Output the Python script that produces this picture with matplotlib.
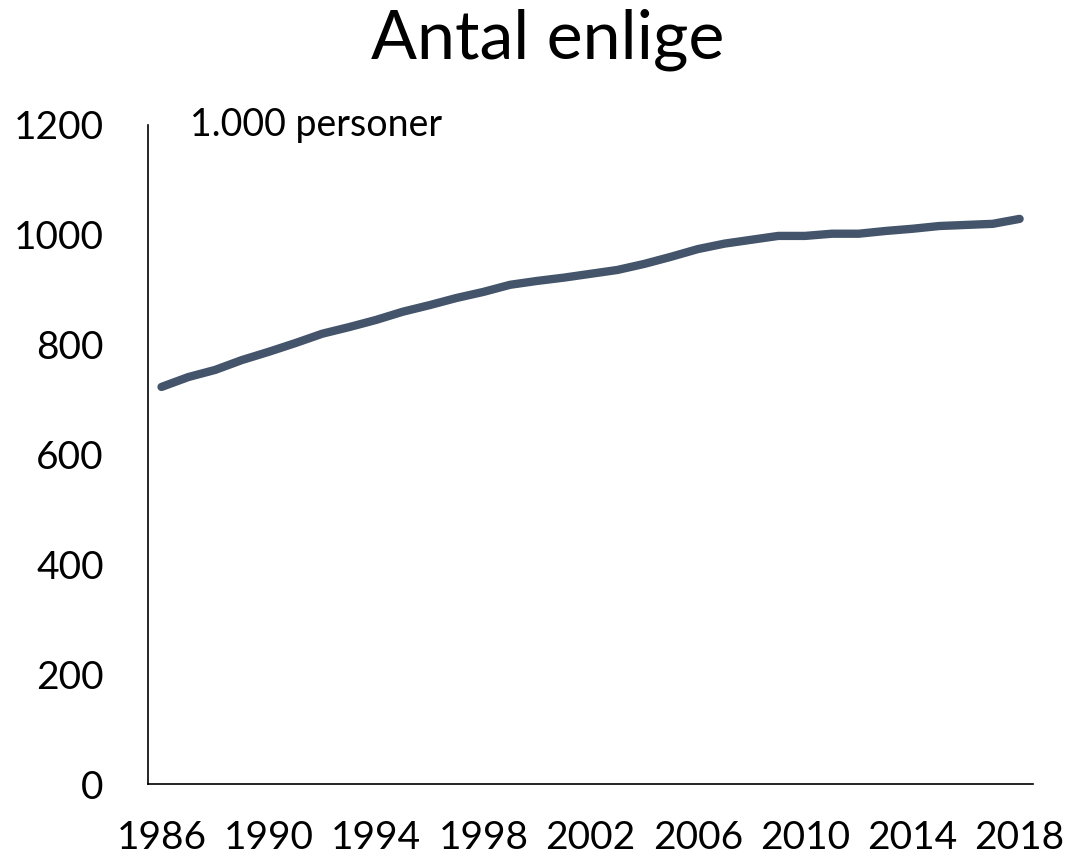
import matplotlib
matplotlib.use('Agg')
import matplotlib.pyplot as plt

# data (1.000 personer)
years = list(range(1986, 2019))
enlige = [723, 741, 754, 772, 787, 803, 820, 832, 845, 860, 872, 885, 896,
          909, 916, 922, 929, 936, 947, 960, 974, 984, 991, 998, 998, 1002,
          1002, 1007, 1011, 1016, 1018, 1020, 1029]
xticks = [1986, 1990, 1994, 1998, 2002, 2006, 2010, 2014, 2018]
yticks = [0, 200, 400, 600, 800, 1000, 1200]

plt.rcParams['font.family'] = ['Lato', 'DejaVu Sans']

fig = plt.figure(figsize=(10.89, 8.56), dpi=100)
ax = fig.add_axes([0.136, 0.0841, 0.8126, 0.7699])

ax.plot(years, enlige, color='#44546A', linewidth=6, solid_capstyle='round',
        solid_joinstyle='round')

ax.set_xlim(1985.5, 2018.5)
ax.set_ylim(0, 1200)
ax.set_xticks(xticks)
ax.set_yticks(yticks)
ax.tick_params(axis='both', length=0, labelsize=28)
ax.tick_params(axis='y', pad=32)
ax.tick_params(axis='x', pad=26)

for s in ['top', 'right']:
    ax.spines[s].set_visible(False)
for s in ['left', 'bottom']:
    ax.spines[s].set_color('#000000')
    ax.spines[s].set_linewidth(1.2)

ax.text(0.047, 1.0, '1.000 personer', transform=ax.transAxes, fontsize=27,
        ha='left', va='center')
fig.text(548 / 1089, 0.953, 'Antal enlige', fontsize=49, ha='center', va='center')

fig.savefig('out.png', dpi=100)
